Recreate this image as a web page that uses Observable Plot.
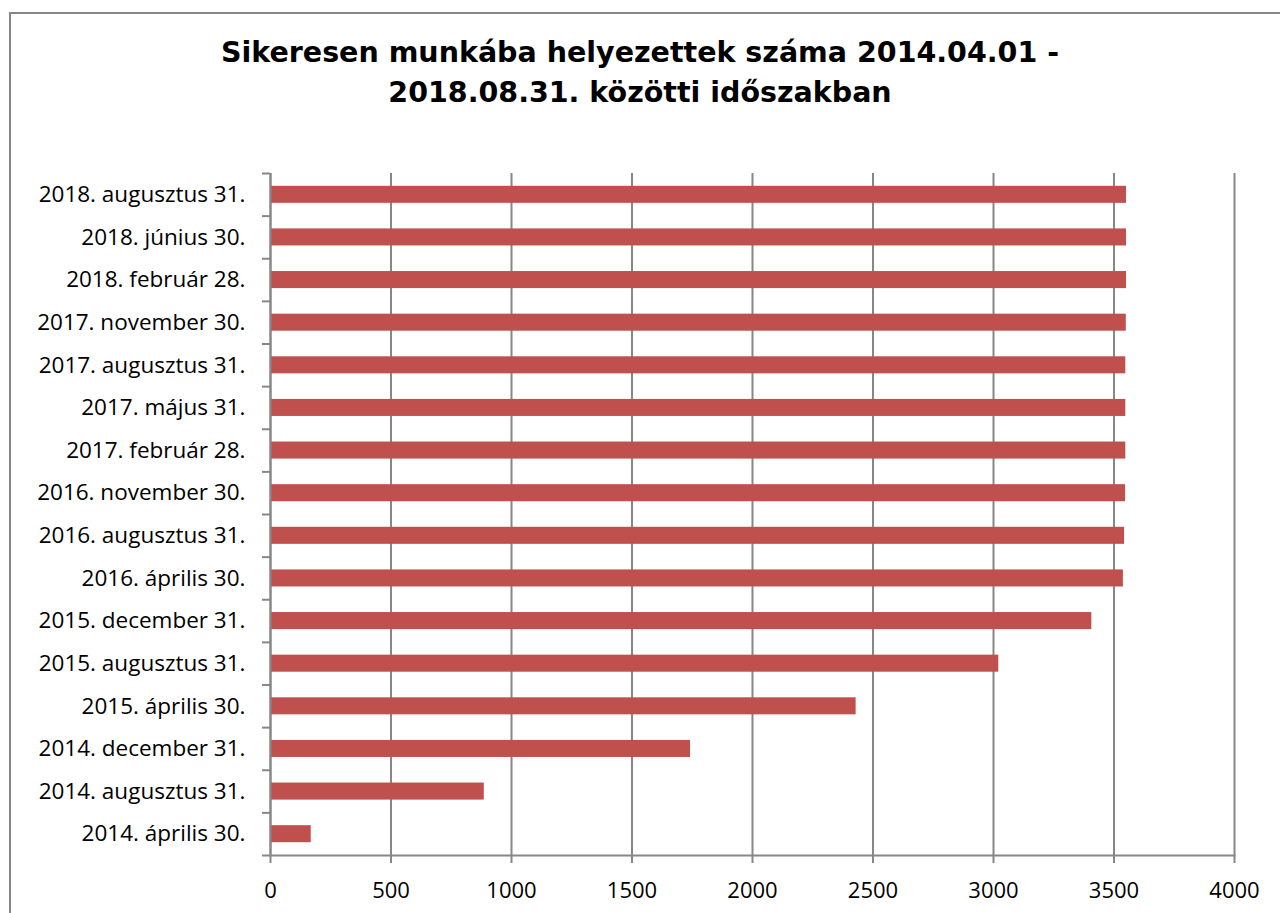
<!DOCTYPE html>
<html>
<head>
<meta charset="utf-8">
<script src="https://cdn.jsdelivr.net/npm/d3@7"></script>
<script src="https://cdn.jsdelivr.net/npm/@observablehq/plot@0.6"></script>
<style>
  html, body { margin: 0; padding: 0; background: #fff; }
  #wrap { position: relative; width: 1280px; height: 913px; overflow: hidden; }
  #box { position: absolute; left: 9px; top: 12px; width: 1400px; height: 1000px; border: 2px solid #878787; box-sizing: border-box; }
  #title { position: absolute; left: 0; top: 33px; width: 1280px; text-align: center;
           font-family: "DejaVu Sans", Verdana, sans-serif; font-weight: bold; font-size: 28.5px; line-height: 40px; color: #000; }
  #chart { position: absolute; left: 0; top: 0; }
</style>
</head>
<body>
<div id="wrap">
  <div id="box"></div>
  <div id="chart"></div>
  <div id="title">Sikeresen munkába helyezettek száma 2014.04.01 -<br>2018.08.31. közötti időszakban</div>
</div>
<script>
const categories = [
  "2018. augusztus 31.",
  "2018. június 30.",
  "2018. február 28.",
  "2017. november 30.",
  "2017. augusztus 31.",
  "2017. május 31.",
  "2017. február 28.",
  "2016. november 30.",
  "2016. augusztus 31.",
  "2016. április 30.",
  "2015. december 31.",
  "2015. augusztus 31.",
  "2015. április 30.",
  "2014. december 31.",
  "2014. augusztus 31.",
  "2014. április 30."
];
const values = [3552, 3552, 3552, 3551, 3549, 3549, 3549, 3548, 3544, 3539, 3408, 3022, 2430, 1743, 887, 169];
const xTicks = [0, 500, 1000, 1500, 2000, 2500, 3000, 3500, 4000];

const data = categories.map((c, i) => ({category: c, value: values[i]}));

const W = 1280, H = 913;
const mTop = 173, mBottom = 58, mLeft = 270, mRight = 46;
const step = (H - mTop - mBottom) / categories.length;
const grid = "#878787";
const font = "'Open Sans', sans-serif";

const chart = Plot.plot({
  width: W,
  height: H,
  marginTop: mTop,
  marginBottom: mBottom,
  marginLeft: mLeft,
  marginRight: mRight,
  style: {fontFamily: font, fontSize: "22px", color: "#000", background: "transparent"},
  x: {domain: [0, 4000]},
  y: {domain: categories, paddingInner: 0.6, paddingOuter: 0.3, round: false},
  marks: [
    Plot.gridX(xTicks, {stroke: grid, strokeOpacity: 1, strokeWidth: 2}),
    Plot.barX(data, {y: "category", x: "value", fill: "#C0504D"}),
    Plot.axisX({ticks: xTicks, tickSize: 8, tickPadding: 19, stroke: grid, strokeWidth: 2, fontSize: 22, label: null, tickFormat: d => String(d)}),
    Plot.ruleX([0], {stroke: grid, strokeWidth: 2}),
    Plot.frame({anchor: "bottom", stroke: grid, strokeWidth: 2}),
    Plot.axisY({tickSize: 0, tickPadding: 25, fontSize: 22.5, label: null, tickFormat: d => d}),
    Plot.axisY({tickSize: 8, text: null, dy: -step / 2, stroke: grid, strokeWidth: 2, label: null}),
    Plot.axisY({ticks: [categories[categories.length - 1]], tickSize: 8, text: null, dy: step / 2, stroke: grid, strokeWidth: 2, label: null})
  ]
});
document.getElementById("chart").appendChild(chart);
</script>
</body>
</html>
